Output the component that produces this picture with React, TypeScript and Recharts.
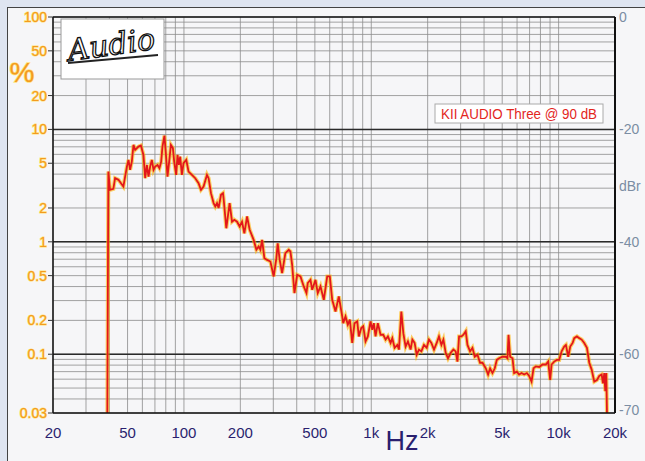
import React from 'react';
import {
  LineChart,
  Line,
  XAxis,
  YAxis,
  CartesianGrid,
  ReferenceLine,
} from 'recharts';

// THD vs frequency (Hz, %)
const freqHz = [
  39, 39.5, 40.3, 42, 42.9, 44.7, 47.5, 49.6, 50.6, 51.6, 52.7, 53.8, 54.9, 57.2, 58.9, 60.8,
  62.1, 63.4, 64.7, 66, 67.4, 68.8, 70.2, 72.3, 74, 75.6, 76.8, 78.7, 80.4, 81.7, 83.4, 85.2,
  87.3, 88.7, 90.9, 92.4, 94, 95.5, 97.5, 99.5, 102.9, 105.8, 110.3, 114.9, 119.7, 123.3, 127.3,
  132.7, 135.4, 139.4, 144, 147, 150.1, 153.1, 157.7, 161.6, 162.8, 168.3, 175.3, 180.6, 185.8,
  192.1, 198.3, 204.2, 210.1, 217.2, 224.3, 235.6, 243.6, 250.6, 255.9, 261.3, 268.8, 277.9,
  289.4, 301.4, 311.5, 316.6, 324.5, 334.2, 348, 362.5, 370.2, 378.1, 389, 402.1, 418.8, 436.2,
  450.8, 458.1, 473.7, 483.7, 503.7, 518.1, 535.7, 558, 581.8, 600.7, 618.8, 644.2, 671, 699.8,
  708.4, 728.6, 749.6, 768.3, 791.3, 814, 841.6, 858.2, 884.2, 906, 932, 958.7, 991.2, 1012,
  1032, 1054, 1084, 1121, 1159, 1193, 1227, 1268, 1295, 1332, 1377, 1405, 1447, 1483, 1525,
  1569, 1622, 1657, 1704, 1747, 1797, 1851, 1911, 1976, 2032, 2093, 2162, 2235, 2298, 2368,
  2427, 2496, 2568, 2655, 2744, 2823, 2884, 2942, 3030, 3105, 3194, 3262, 3368, 3468, 3568,
  3689, 3808, 3924, 4086, 4203, 4308, 4436, 4564, 4678, 4812, 5018, 5226, 5336, 5403, 5510,
  5676, 5788, 5984, 6155, 6340, 6546, 6768, 6962, 7170, 7349, 7561, 7876, 8212, 8551, 8798,
  9016, 9173, 9470, 9790, 10072, 10375, 10712, 10940, 11254, 11535, 11880, 12116, 12527, 12887,
  13272, 13704, 14168, 14576, 15011, 15500, 16023, 16482, 16979, 17253, 17532, 17748, 17970, 18124,
];
const thdPct = [
  0.03, 4.22, 2.9, 2.96, 3.68, 3.56, 3.1, 4.67, 5.36, 4.36, 5.17, 7.28, 6.57, 7.03, 7.18, 5.93,
  3.68, 4.83, 3.8, 4.67, 5.36, 4.36, 4.67, 4.83, 4.52, 5.17, 7.03, 8.81, 5.55, 3.8, 5.17, 7.28,
  6.81, 5.17, 3.94, 5.93, 4.83, 5.73, 3.94, 5.01, 5.36, 4.22, 3.94, 3.68, 3.32, 2.9, 3.1,
  3.94, 3.68, 2.71, 2.21, 2.06, 2.21, 2.0, 2.62, 2.71, 2.44, 1.32, 2.21, 1.51, 1.57,
  1.51, 1.37, 1.51, 1.19, 1.68, 1.28, 1.04, 0.85, 0.91, 0.85, 1.04, 0.716, 0.69,
  0.668, 0.492, 0.716, 0.97, 0.69, 0.527, 0.794, 0.85, 0.82, 0.625, 0.35, 0.509, 0.492, 0.401,
  0.35, 0.43, 0.459, 0.374, 0.459, 0.35, 0.401, 0.305, 0.492, 0.492, 0.305, 0.24, 0.327, 0.217,
  0.189, 0.217, 0.183, 0.203, 0.126, 0.189, 0.196, 0.144, 0.171, 0.177, 0.13, 0.144, 0.196, 0.165,
  0.189, 0.144, 0.189, 0.149, 0.149, 0.135, 0.144, 0.126, 0.139, 0.114, 0.121, 0.11, 0.24, 0.154, 0.117,
  0.13, 0.11, 0.135, 0.126, 0.099, 0.11, 0.106, 0.121, 0.114, 0.135, 0.126, 0.11, 0.126, 0.144, 0.121,
  0.135, 0.103, 0.092, 0.103, 0.11, 0.106, 0.086, 0.144, 0.144, 0.149, 0.16, 0.121, 0.106, 0.114, 0.095,
  0.099, 0.084, 0.084, 0.075, 0.066, 0.075, 0.068, 0.075, 0.089, 0.092, 0.095, 0.095, 0.092, 0.149, 0.095,
  0.092, 0.068, 0.07, 0.066, 0.068, 0.066, 0.068, 0.064, 0.057, 0.075, 0.078, 0.077, 0.081, 0.081, 0.086,
  0.059, 0.081, 0.086, 0.089, 0.089, 0.106, 0.117, 0.121, 0.095, 0.117, 0.126, 0.139, 0.144, 0.139,
  0.135, 0.126, 0.114, 0.084, 0.073, 0.057, 0.059, 0.064, 0.066, 0.055, 0.068, 0.047, 0.068, 0.03,
];

// grid and tick values
const xGrid = [
  20, 30, 40, 50, 60, 70, 80, 90, 100, 200, 300, 400, 500, 600, 700, 800, 900,
  1000, 2000, 3000, 4000, 5000, 6000, 7000, 8000, 9000, 10000, 20000,
];
const xLabels: Record<number, string> = {
  20: '20', 50: '50', 100: '100', 200: '200', 500: '500',
  1000: '1k', 2000: '2k', 5000: '5k', 10000: '10k', 20000: '20k',
};
const yGrid = [
  0.03, 0.04, 0.05, 0.06, 0.07, 0.08, 0.09, 0.1, 0.2, 0.3, 0.4, 0.5, 0.6, 0.7, 0.8, 0.9,
  1, 2, 3, 4, 5, 6, 7, 8, 9, 10, 20, 30, 40, 50, 60, 70, 80, 90, 100,
];
const yLabels = [100, 50, 20, 10, 5, 2, 1, 0.5, 0.2, 0.1, 0.03];
const yMajor = [0.1, 1, 10];
const dbrTicks = [0, -20, -30, -40, -60, -70];

const FONT = '"Liberation Sans", Arial, sans-serif';
const ORANGE = '#f39a1f';
const NAVY = '#2a1f6f';

const XTick = ({ x, y, payload }: any) => {
  const lbl = xLabels[payload.value];
  if (!lbl) return <g />;
  return (
    <text x={x} y={y + 25} textAnchor="middle" fontSize={15} fill={NAVY} fontFamily={FONT}>
      {lbl}
    </text>
  );
};

const LeftTick = ({ x, y, payload }: any) => {
  if (!yLabels.includes(payload.value)) return <g />;
  return (
    <g>
      <line x1={x} x2={x + 5} y1={y} y2={y} stroke="#333" />
      <text
        x={x - 1}
        y={y + 5}
        textAnchor="end"
        fontSize={14}
        fill={ORANGE}
        stroke="#ffe27a"
        strokeWidth={1.2}
        paintOrder="stroke"
        fontFamily={FONT}
      >
        {String(payload.value)}
      </text>
    </g>
  );
};

const RightTick = ({ x, y, payload }: any) => (
  <text x={x} y={y + 5} textAnchor="start" fontSize={14} fill="#7b8da3" fontFamily={FONT}>
    {payload.value === -30 ? 'dBr' : String(payload.value)}
  </text>
);

export default function App() {
  const data = freqHz.map((f, i) => ({ f, pct: thdPct[i] }));

  return (
    <div style={{ position: 'relative', width: 645, height: 461, background: '#dfe5f1', overflow: 'hidden' }}>
      <style>{'body{margin:0}'}</style>
      <div
        style={{
          position: 'absolute',
          left: 7,
          top: 7,
          width: 640,
          height: 456,
          background: '#f6f6f8',
          borderLeft: '1.5px solid #444',
          borderTop: '1.5px solid #444',
        }}
      />
      <div style={{ position: 'absolute', left: 0, top: 0 }}>
        <LineChart width={645} height={461} data={data} margin={{ top: 17, right: 0, bottom: 0, left: 0 }}>
          <CartesianGrid yAxisId="left" stroke="#8c8c8c" strokeWidth={0.8} />
          <XAxis
            dataKey="f"
            type="number"
            scale="log"
            domain={[20, 20000]}
            allowDataOverflow
            ticks={xGrid}
            interval={0}
            height={48}
            tickSize={0}
            tickMargin={0}
            tickLine={false}
            axisLine={{ stroke: '#111', strokeWidth: 1.5 }}
            tick={<XTick />}
          />
          <YAxis
            yAxisId="left"
            type="number"
            scale="log"
            domain={[0.03, 100]}
            allowDataOverflow
            ticks={yGrid}
            interval={0}
            width={53}
            tickSize={5}
            tickMargin={0}
            tickLine={false}
            axisLine={{ stroke: '#111', strokeWidth: 1.5 }}
            tick={<LeftTick />}
          />
          <YAxis
            yAxisId="right"
            orientation="right"
            type="number"
            domain={[-70.46, 0]}
            allowDataOverflow
            ticks={dbrTicks}
            interval={0}
            width={30}
            tickSize={4}
            tickMargin={0}
            tickLine={false}
            axisLine={{ stroke: '#111', strokeWidth: 2 }}
            tick={<RightTick />}
          />
          {yMajor.map((v) => (
            <ReferenceLine key={v} yAxisId="left" y={v} stroke="#2a2a2a" strokeWidth={1.5} />
          ))}
          <ReferenceLine yAxisId="left" y={100} stroke="#111" strokeWidth={1.5} />
          <Line
            yAxisId="left"
            type="linear"
            dataKey="pct"
            stroke="#ffb400"
            strokeOpacity={0.6}
            strokeWidth={4}
            dot={false}
            isAnimationActive={false}
          />
          <Line
            yAxisId="left"
            type="linear"
            dataKey="pct"
            stroke="#e3161b"
            strokeWidth={1.8}
            dot={false}
            isAnimationActive={false}
          />
        </LineChart>
      </div>
      <svg
        width={645}
        height={461}
        style={{ position: 'absolute', left: 0, top: 0, pointerEvents: 'none' }}
      >
        <text
          x={22}
          y={82}
          textAnchor="middle"
          fontSize={28}
          fill={ORANGE}
          stroke="#ffe27a"
          strokeWidth={1.5}
          paintOrder="stroke"
          fontFamily={FONT}
        >
          %
        </text>
        <text x={402} y={450} textAnchor="middle" fontSize={27} fill={NAVY} fontFamily={FONT}>
          Hz
        </text>
        <rect x={61} y={19} width={103} height={60} fill="#fff" stroke="#999" />
        <text
          x={112}
          y={55}
          textAnchor="middle"
          fontSize={30}
          fontStyle="italic"
          fill="#fff"
          stroke="#111"
          strokeWidth={1.3}
          fontFamily='"DejaVu Serif", serif'
          transform="rotate(-8 112 50)"
        >
          Audio
        </text>
        <line x1={68} y1={63} x2={158} y2={55} stroke="#222" strokeWidth={2} />
        <rect x={435} y={104} width={168} height={19} fill="#fff" stroke="#aaa" />
        <text
          x={519}
          y={119}
          textAnchor="middle"
          fontSize={15}
          fill="#e3261d"
          fontFamily={FONT}
          textLength={156}
          lengthAdjust="spacingAndGlyphs"
        >
          KII AUDIO Three @ 90 dB
        </text>
      </svg>
    </div>
  );
}
